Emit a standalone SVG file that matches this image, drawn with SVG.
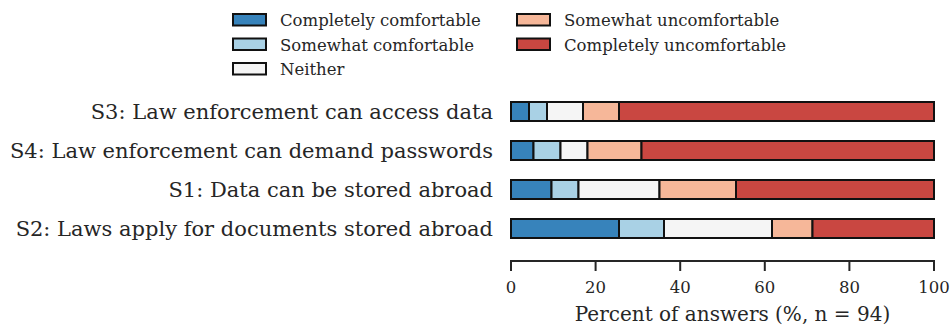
<svg xmlns="http://www.w3.org/2000/svg" width="950" height="329" viewBox="0 0 950 329">
  <style>
    text { font-family: "DejaVu Serif", "Liberation Serif", serif; fill: #262626; }
    .lbl { font-size: 21px; text-anchor: end; }
    .leg { font-size: 16.5px; }
    .tick { font-size: 16.5px; text-anchor: middle; }
    .axl { font-size: 20px; text-anchor: middle; }
    .seg { stroke: #111; stroke-width: 2; }
    .c1 { fill: #3783bb; }
    .c2 { fill: #a9d1e5; }
    .c3 { fill: #f5f5f5; }
    .c4 { fill: #f6b799; }
    .c5 { fill: #c94741; }
    .ax { stroke: #262626; stroke-width: 2; fill: none; }
  </style>
  <rect width="950" height="329" fill="#ffffff"/>

  <!-- legend -->
  <g id="legend">
    <rect class="seg c1" x="233" y="14" width="33" height="11.5"/>
    <text class="leg" x="280" y="26">Completely comfortable</text>
    <rect class="seg c2" x="233" y="38.5" width="33" height="11.5"/>
    <text class="leg" x="280" y="50.5">Somewhat comfortable</text>
    <rect class="seg c3" x="233" y="63" width="33" height="11.5"/>
    <text class="leg" x="280" y="75">Neither</text>
    <rect class="seg c4" x="517" y="14" width="33" height="11.5"/>
    <text class="leg" x="564" y="26">Somewhat uncomfortable</text>
    <rect class="seg c5" x="517" y="38.5" width="33" height="11.5"/>
    <text class="leg" x="564" y="50.5">Completely uncomfortable</text>
  </g>

  <!-- S3: 4, 4, 8, 8, 70 of 94 -->
  <g id="bar-s3">
    <text class="lbl" x="493" y="119">S3: Law enforcement can access data</text>
    <rect class="seg c1" x="511" y="102" width="18" height="19"/>
    <rect class="seg c2" x="529" y="102" width="18" height="19"/>
    <rect class="seg c3" x="547" y="102" width="36" height="19"/>
    <rect class="seg c4" x="583" y="102" width="36" height="19"/>
    <rect class="seg c5" x="619" y="102" width="315" height="19"/>
  </g>

  <!-- S4: 5, 6, 6, 12, 65 of 94 -->
  <g id="bar-s4">
    <text class="lbl" x="493" y="158">S4: Law enforcement can demand passwords</text>
    <rect class="seg c1" x="511" y="141" width="22.5" height="19"/>
    <rect class="seg c2" x="533.5" y="141" width="27" height="19"/>
    <rect class="seg c3" x="560.5" y="141" width="27" height="19"/>
    <rect class="seg c4" x="587.5" y="141" width="54" height="19"/>
    <rect class="seg c5" x="641.5" y="141" width="292.5" height="19"/>
  </g>

  <!-- S1: 9, 6, 18, 17, 44 of 94 -->
  <g id="bar-s1">
    <text class="lbl" x="493" y="197">S1: Data can be stored abroad</text>
    <rect class="seg c1" x="511" y="180" width="40.5" height="19"/>
    <rect class="seg c2" x="551.5" y="180" width="27" height="19"/>
    <rect class="seg c3" x="578.5" y="180" width="81" height="19"/>
    <rect class="seg c4" x="659.5" y="180" width="76.5" height="19"/>
    <rect class="seg c5" x="736" y="180" width="198" height="19"/>
  </g>

  <!-- S2: 24, 10, 24, 9, 27 of 94 -->
  <g id="bar-s2">
    <text class="lbl" x="493" y="236">S2: Laws apply for documents stored abroad</text>
    <rect class="seg c1" x="511" y="219" width="108" height="19"/>
    <rect class="seg c2" x="619" y="219" width="45" height="19"/>
    <rect class="seg c3" x="664" y="219" width="108" height="19"/>
    <rect class="seg c4" x="772" y="219" width="40.5" height="19"/>
    <rect class="seg c5" x="812.5" y="219" width="121.5" height="19"/>
  </g>

  <!-- x axis -->
  <g id="x-axis">
    <path class="ax" d="M511 261H934M511 260V271M595.6 260V271M680.2 260V271M764.8 260V271M849.4 260V271M934 260V271"/>
    <text class="tick" x="511" y="293">0</text>
    <text class="tick" x="595.6" y="293">20</text>
    <text class="tick" x="680.2" y="293">40</text>
    <text class="tick" x="764.8" y="293">60</text>
    <text class="tick" x="849.4" y="293">80</text>
    <text class="tick" x="934" y="293">100</text>
    <text class="axl" x="732.5" y="321">Percent of answers (%, n = 94)</text>
  </g>
</svg>
